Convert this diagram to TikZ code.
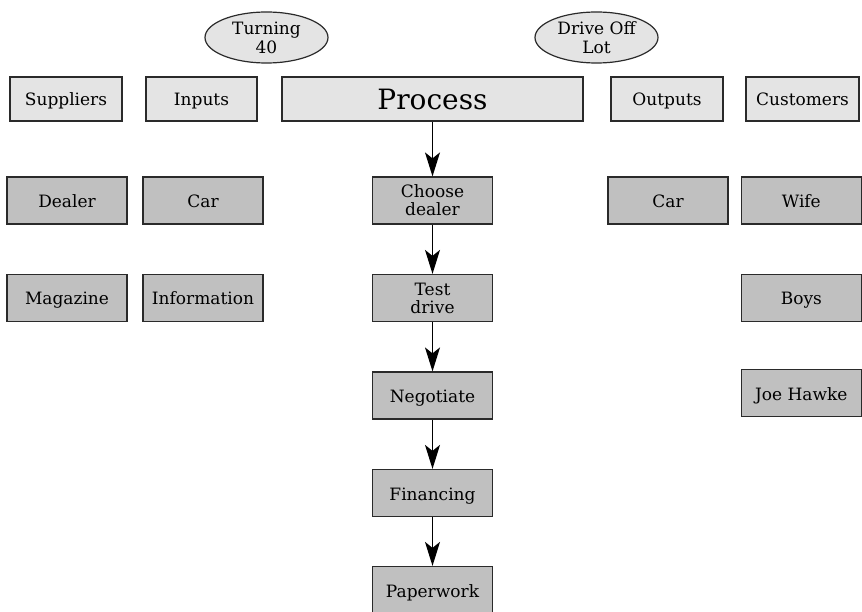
\documentclass[tikz,border=0pt]{standalone}
\usepackage{fontspec}
\setmainfont{DejaVu Serif}
\usetikzlibrary{arrows.meta,shapes.geometric}
\definecolor{toplight}{HTML}{E4E4E4}
\definecolor{boxgray}{HTML}{C0C0C0}
\definecolor{edge}{HTML}{2A2A2A}
\begin{document}
\begin{tikzpicture}[x=1pt,y=-1pt,
  every node/.style={font=\fontsize{17}{18}\selectfont, align=center, inner sep=0pt},
  oneline/.style={text height=14pt, text depth=0pt},
  headbox/.style={draw=edge, line width=1.2pt, fill=toplight, minimum height=44pt, oneline},
  itembox/.style={draw=edge, line width=1.2pt, fill=boxgray, minimum width=120pt, minimum height=47pt},
  event/.style={ellipse, draw=edge, line width=1.2pt, fill=toplight, minimum width=123pt, minimum height=51pt,
    font=\fontsize{17}{19}\selectfont},
  flow/.style={draw=black, line width=1.2pt, -{Stealth[length=24pt, width=15pt, inset=6pt]}}
]
\useasboundingbox (0,0) rectangle (862,612);
\clip (0,0) rectangle (862,612);

% triggers
\node[event] (turn) at (266.5,37.5) {Turning\\40};
\node[event] (drive) at (596.5,37.5) {Drive Off\\Lot};

% SIPOC header row
\node[headbox, minimum width=112pt] (sup) at (66,99) {Suppliers};
\node[headbox, minimum width=111pt] (inp) at (201.5,99) {Inputs};
\node[headbox, minimum width=301pt, font=\fontsize{28}{30}\selectfont, text height=22pt] (proc) at (432.5,99) {Process};
\node[headbox, minimum width=112pt] (out) at (667,99) {Outputs};
\node[headbox, minimum width=113pt] (cus) at (802.5,99) {Customers};

% suppliers and inputs
\node[itembox, oneline] (dealer) at (67,200.5) {Dealer};
\node[itembox, oneline] (carin) at (203,200.5) {Car};
\node[itembox, oneline] (mag) at (67,298) {Magazine};
\node[itembox, oneline] (info) at (203,298) {Information};

% process steps
\node[itembox] (s1) at (432.5,200.5) {Choose\\dealer};
\node[itembox] (s2) at (432.5,298) {Test\\drive};
\node[itembox, oneline] (s3) at (432.5,395.5) {Negotiate};
\node[itembox, oneline] (s4) at (432.5,493) {Financing};
\node[itembox, oneline] (s5) at (432.5,590) {Paperwork};

% outputs and customers
\node[itembox, oneline] (carout) at (668,200.5) {Car};
\node[itembox, oneline] (wife) at (801.3,200.5) {Wife};
\node[itembox, oneline] (boys) at (801.3,298) {Boys};
\node[itembox, oneline] (joe) at (801.3,393) {Joe Hawke};

% process flow
\draw[flow] (proc.south) -- (s1.north);
\draw[flow] (s1) -- (s2);
\draw[flow] (s2) -- (s3);
\draw[flow] (s3) -- (s4);
\draw[flow] (s4) -- (s5);
\end{tikzpicture}
\end{document}
